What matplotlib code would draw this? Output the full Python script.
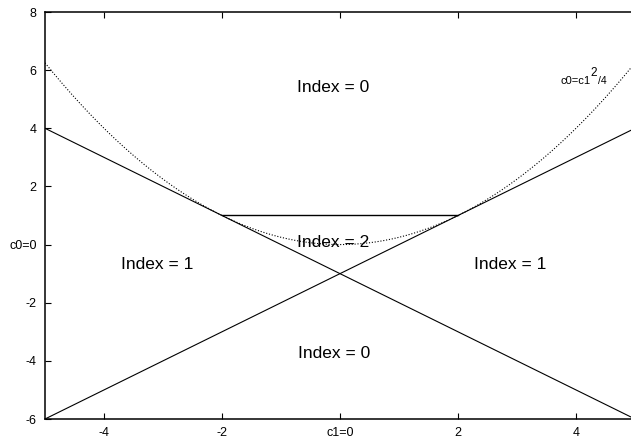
import numpy as np
import matplotlib.pyplot as plt

plt.rcParams['font.family'] = ['Liberation Sans', 'DejaVu Sans']

# stability regions of c0 against c1
c1_range = [-5, 5]
boundary_upper = [-1, 1]      # c0 = c1 - 1
boundary_lower = [-1, -1]     # c0 = -c1 - 1
segment_c1 = [-2, 2]
segment_c0 = [1, 1]

x_ticks = [-4, -2, 0, 2, 4]
x_labels = ['-4', '-2', 'c1=0', '2', '4']
y_ticks = [-6, -4, -2, 0, 2, 4, 6, 8]
y_labels = ['-6', '-4', '-2', 'c0=0', '2', '4', '6', '8']

region_labels = ['Index = 0', 'Index = 0', 'Index = 1', 'Index = 1', 'Index = 2']
region_c1 = [-0.12, -0.1, -3.1, 2.88, -0.12]
region_c0 = [5.4, -3.74, -0.69, -0.69, 0.06]

fig = plt.figure(figsize=(6.31, 4.40), dpi=100)
ax = fig.add_axes([45 / 631, 21 / 440, (631 - 45) / 631, (419 - 12) / 440])

c1 = np.linspace(c1_range[0], c1_range[1], 400)
ax.plot(c1, boundary_upper[1] * c1 + boundary_upper[0], color='black', lw=0.8)
ax.plot(c1, boundary_lower[1] * c1 + boundary_lower[0], color='black', lw=0.8)
ax.plot(segment_c1, segment_c0, color='black', lw=1.0)
ax.plot(c1, c1 ** 2 / 4, color='black', lw=0.8, linestyle=(0, (1, 1.6)))

for label, x, y in zip(region_labels, region_c1, region_c0):
    ax.text(x, y, label, ha='center', va='center', fontsize=12.5)

# parabola label with a raised exponent
lbl_xy = (3.73, 5.62)
ax.annotate('c0=c1', lbl_xy, ha='left', va='center', fontsize=8)
ax.annotate('2', lbl_xy, xytext=(22.0, 6.0), textcoords='offset points',
            ha='left', va='center', fontsize=8.5)
ax.annotate('/4', lbl_xy, xytext=(27.0, 0), textcoords='offset points',
            ha='left', va='center', fontsize=7.5)

ax.set_xlim(-5, -5 + (631 - 45) / 59)
ax.set_ylim(-6, 8)
ax.set_xticks(x_ticks)
ax.set_xticklabels(x_labels)
ax.set_yticks(y_ticks)
ax.set_yticklabels(y_labels)
ax.tick_params(direction='in', top=True, length=4, labelsize=9, width=0.8, pad=6)
ax.spines['right'].set_visible(False)
for side in ['left', 'bottom', 'top']:
    ax.spines[side].set_linewidth(1.1)

plt.savefig('out.png', dpi=100)
